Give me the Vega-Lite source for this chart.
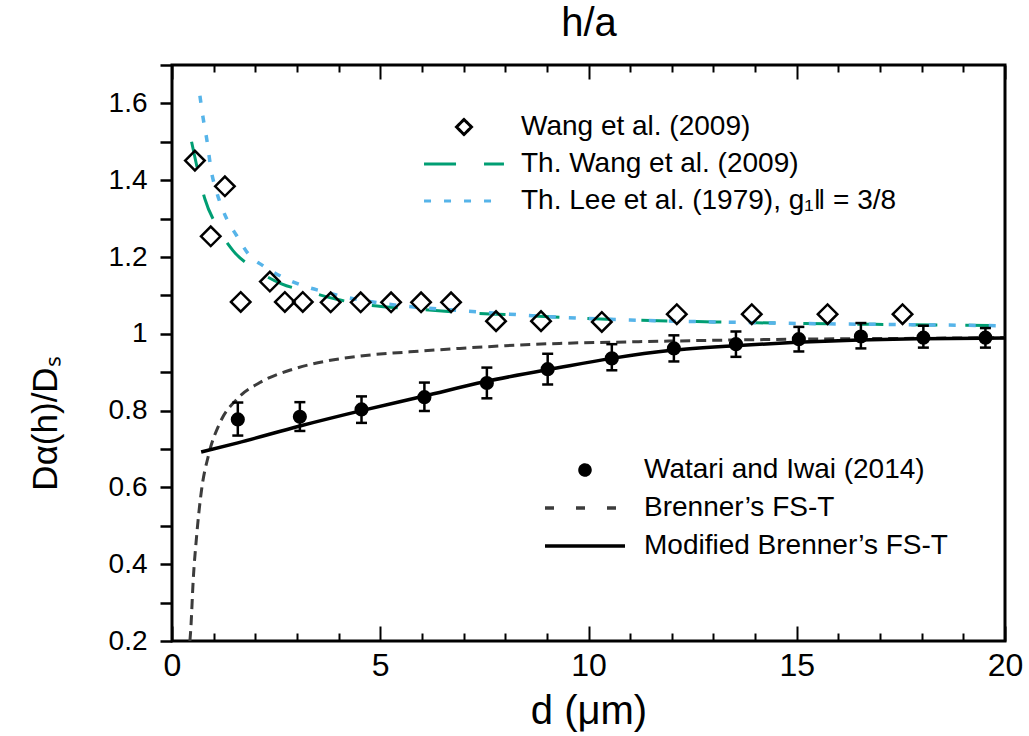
{
  "$schema": "https://vega.github.io/schema/vega-lite/v6.json",
  "width": 833,
  "height": 576,
  "autosize": {"type": "none"},
  "padding": {"left": 172, "top": 65, "right": 24, "bottom": 95},
  "config": {
    "view": {"stroke": "black", "strokeWidth": 3},
    "font": "Liberation Sans",
    "axis": {"domain": false, "grid": false, "tickColor": "black", "tickWidth": 2, "tickOpacity": 1, "labelColor": "black", "titleColor": "black", "titleFontWeight": "normal"}
  },
  "datasets": {
    "wang": [
      {"d": 0.55, "v": 1.451}, {"d": 0.93, "v": 1.254}, {"d": 1.27, "v": 1.384}, {"d": 1.65, "v": 1.083},
      {"d": 2.35, "v": 1.136}, {"d": 2.71, "v": 1.083}, {"d": 3.14, "v": 1.083}, {"d": 3.81, "v": 1.082},
      {"d": 4.53, "v": 1.082}, {"d": 5.26, "v": 1.082}, {"d": 5.98, "v": 1.082}, {"d": 6.7, "v": 1.082},
      {"d": 7.78, "v": 1.033}, {"d": 8.86, "v": 1.033}, {"d": 10.32, "v": 1.031}, {"d": 12.12, "v": 1.051},
      {"d": 13.92, "v": 1.051}, {"d": 15.74, "v": 1.051}, {"d": 17.54, "v": 1.051}
    ],
    "thwang": [
      {"d": 0.47, "v": 1.5}, {"d": 0.61, "v": 1.43}, {"d": 0.79, "v": 1.351}, {"d": 1.07, "v": 1.282},
      {"d": 1.47, "v": 1.216}, {"d": 1.99, "v": 1.169}, {"d": 2.63, "v": 1.13}, {"d": 3.27, "v": 1.11},
      {"d": 3.95, "v": 1.09}, {"d": 4.59, "v": 1.077}, {"d": 5.95, "v": 1.064}, {"d": 6.91, "v": 1.056},
      {"d": 8, "v": 1.05}, {"d": 9.3, "v": 1.043}, {"d": 11, "v": 1.036}, {"d": 13, "v": 1.031},
      {"d": 15, "v": 1.027}, {"d": 17.5, "v": 1.024}, {"d": 20, "v": 1.021}
    ],
    "thlee": [
      {"d": 0.67, "v": 1.62}, {"d": 0.75, "v": 1.56}, {"d": 0.83, "v": 1.51}, {"d": 0.95, "v": 1.42},
      {"d": 1.07, "v": 1.37}, {"d": 1.31, "v": 1.3}, {"d": 1.55, "v": 1.256}, {"d": 1.87, "v": 1.203},
      {"d": 2.19, "v": 1.177}, {"d": 2.67, "v": 1.147}, {"d": 3.15, "v": 1.125}, {"d": 3.71, "v": 1.108},
      {"d": 4.19, "v": 1.095}, {"d": 5, "v": 1.08}, {"d": 6, "v": 1.068}, {"d": 7, "v": 1.06},
      {"d": 8, "v": 1.052}, {"d": 9.3, "v": 1.043}, {"d": 11, "v": 1.036}, {"d": 13, "v": 1.031},
      {"d": 15, "v": 1.027}, {"d": 17.5, "v": 1.024}, {"d": 20, "v": 1.021}
    ],
    "watari": [
      {"d": 1.58, "v": 0.777, "lo": 0.735, "hi": 0.821},
      {"d": 3.07, "v": 0.784, "lo": 0.747, "hi": 0.822},
      {"d": 4.55, "v": 0.803, "lo": 0.768, "hi": 0.837},
      {"d": 6.06, "v": 0.835, "lo": 0.799, "hi": 0.873},
      {"d": 7.56, "v": 0.872, "lo": 0.832, "hi": 0.912},
      {"d": 9.02, "v": 0.908, "lo": 0.868, "hi": 0.948},
      {"d": 10.56, "v": 0.936, "lo": 0.905, "hi": 0.973},
      {"d": 12.05, "v": 0.962, "lo": 0.928, "hi": 0.996},
      {"d": 13.54, "v": 0.973, "lo": 0.94, "hi": 1.006},
      {"d": 15.05, "v": 0.986, "lo": 0.954, "hi": 1.018},
      {"d": 16.54, "v": 0.993, "lo": 0.962, "hi": 1.028},
      {"d": 18.04, "v": 0.99, "lo": 0.964, "hi": 1.021},
      {"d": 19.53, "v": 0.99, "lo": 0.964, "hi": 1.015}
    ],
    "brenner": [
      {"d": 0.43, "v": 0.2}, {"d": 0.45, "v": 0.229}, {"d": 0.51, "v": 0.36}, {"d": 0.59, "v": 0.472},
      {"d": 0.71, "v": 0.594}, {"d": 0.87, "v": 0.681}, {"d": 1.15, "v": 0.768}, {"d": 1.55, "v": 0.829},
      {"d": 2.11, "v": 0.873}, {"d": 2.91, "v": 0.908}, {"d": 3.71, "v": 0.929}, {"d": 4.51, "v": 0.942},
      {"d": 5.71, "v": 0.953}, {"d": 6.91, "v": 0.962}, {"d": 8, "v": 0.969}, {"d": 9.3, "v": 0.975},
      {"d": 11, "v": 0.979}, {"d": 13, "v": 0.983}, {"d": 15, "v": 0.986}, {"d": 17.5, "v": 0.988},
      {"d": 20, "v": 0.99}
    ],
    "modbrenner": [
      {"d": 0.7, "v": 0.692}, {"d": 1.58, "v": 0.716}, {"d": 3.07, "v": 0.76}, {"d": 4.55, "v": 0.8},
      {"d": 6.06, "v": 0.838}, {"d": 7.5, "v": 0.875}, {"d": 9.3, "v": 0.912}, {"d": 10.56, "v": 0.936},
      {"d": 12, "v": 0.957}, {"d": 13.5, "v": 0.969}, {"d": 15, "v": 0.978}, {"d": 16.5, "v": 0.984},
      {"d": 18, "v": 0.987}, {"d": 20, "v": 0.989}
    ]
  },
  "layer": [
    {
      "data": {"name": "thwang"},
      "mark": {"type": "line", "strokeDash": [26, 28], "strokeWidth": 3, "interpolate": "monotone", "clip": true},
      "encoding": {
        "x": {"field": "d", "type": "quantitative", "scale": {"domain": [0, 20], "nice": false, "zero": false},
          "axis": {
            "orient": "bottom",
            "values": [0, 5, 10, 15, 20],
            "ticks": false,
            "labelFont": "Liberation Sans Narrow, Liberation Sans",
            "labelFontSize": 32,
            "labelPadding": 9,
            "labelOverlap": false,
            "labelFlush": false,
            "labelBound": false,
            "title": "d (μm)",
            "titleFont": "Liberation Sans Narrow, Liberation Sans",
            "titleFontSize": 40,
            "titleBaseline": "alphabetic",
            "titleY": 82
          }
        },
        "y": {"field": "v", "type": "quantitative", "scale": {"domain": [0.2, 1.7], "nice": false, "zero": false},
          "axis": {
            "orient": "left",
            "values": [0.2,0.3,0.4,0.5,0.6,0.7,0.8,0.9,1.0,1.1,1.2,1.3,1.4,1.5,1.6,1.7],
            "ticks": true,
            "tickColor": "black",
            "tickWidth": 2.5,
            "tickOpacity": 1,
            "tickSize": 12,
            "zindex": 1,
            "format": ".1~f",
            "labelExpr": "round(datum.value * 10) % 2 === 0 ? datum.label : ''",
            "labelFont": "Liberation Sans",
            "labelFontSize": 28,
            "labelPadding": 13,
            "labelOverlap": false,
            "labelFlush": false,
            "labelBound": false,
            "title": "Dα(h)/Dₛ",
            "titleFont": "Liberation Sans",
            "titleFontSize": 35,
            "titleX": -127,
            "titleY": 358,
            "titleAlign": "center",
            "titleBaseline": "middle",
            "titleAngle": -90
          }
        },
        "color": {"datum": "Th. Wang et al. (2009)", "type": "nominal",
          "scale": {"domain": ["Wang et al. (2009)", "Th. Wang et al. (2009)", "Th. Lee et al. (1979), g₁‖ = 3/8"], "range": ["black", "#009E73", "#56B4E9"]},
          "legend": null}
      }
    },
    {
      "data": {"name": "thlee"},
      "mark": {"type": "line", "strokeDash": [7, 13], "strokeWidth": 3.5, "interpolate": "monotone", "clip": true},
      "encoding": {
        "x": {"field": "d", "type": "quantitative", "scale": {"domain": [0, 20], "nice": false, "zero": false},
          "axis": {"orient": "top", "offset": -576, "values": [0, 5, 10, 15, 20], "ticks": true, "tickSize": 15, "tickColor": "black", "tickWidth": 2, "zindex": 1, "labels": false, "title": null,
            "encode": {"ticks": {"stroke": {"value": "black"}, "strokeWidth": {"value": 2}, "opacity": {"value": 1}}}}
        },
        "y": {"field": "v", "type": "quantitative", "scale": {"domain": [0.2, 1.7], "nice": false, "zero": false}, "axis": null},
        "color": {"datum": "Th. Lee et al. (1979), g₁‖ = 3/8", "type": "nominal",
          "scale": {"domain": ["Wang et al. (2009)", "Th. Wang et al. (2009)", "Th. Lee et al. (1979), g₁‖ = 3/8"], "range": ["black", "#009E73", "#56B4E9"]},
          "legend": null}
      }
    },
    {
      "data": {"name": "wang"},
      "mark": {"type": "point", "shape": "diamond", "filled": false, "size": 380, "strokeWidth": 2.5, "opacity": 1, "clip": true},
      "encoding": {
        "x": {"field": "d", "type": "quantitative", "scale": {"domain": [0, 20], "nice": false, "zero": false},
          "axis": {"orient": "top", "offset": -576, "values": [1,2,3,4,6,7,8,9,11,12,13,14,16,17,18,19], "ticks": true, "tickSize": 8, "tickColor": "black", "tickWidth": 2, "zindex": 1, "labels": false, "title": null,
            "encode": {"ticks": {"stroke": {"value": "black"}, "strokeWidth": {"value": 2}, "opacity": {"value": 1}}}}
        },
        "y": {"field": "v", "type": "quantitative", "scale": {"domain": [0.2, 1.7], "nice": false, "zero": false}, "axis": null},
        "color": {"datum": "Wang et al. (2009)", "type": "nominal",
          "scale": {"domain": ["Wang et al. (2009)", "Th. Wang et al. (2009)", "Th. Lee et al. (1979), g₁‖ = 3/8"], "range": ["black", "#009E73", "#56B4E9"]},
          "legend": {
            "orient": "none",
            "legendX": 278,
            "legendY": 48,
            "title": null,
            "padding": 0,
            "offset": 0,
            "symbolSize": 225,
            "symbolType": {"expr": "datum.value === 'Wang et al. (2009)' ? 'diamond' : 'M-5.33,0L5.33,0'"},
            "symbolDash": {"expr": "datum.value === 'Th. Wang et al. (2009)' ? [32, 28] : (datum.value === 'Th. Lee et al. (1979), g₁‖ = 3/8' ? [7, 13] : [1, 0])"},
            "symbolStrokeWidth": 3,
            "symbolOpacity": 1,
            "labelFont": "Liberation Sans",
            "labelFontSize": 28,
            "labelColor": "black",
            "labelOffset": 43,
            "labelLimit": 600,
            "rowPadding": 9
          }
        }
      }
    },
    {
      "data": {"name": "brenner"},
      "mark": {"type": "line", "strokeDash": [10, 6], "strokeWidth": 3, "interpolate": "monotone", "clip": true},
      "encoding": {
        "x": {"field": "d", "type": "quantitative", "scale": {"domain": [0, 20], "nice": false, "zero": false},
          "axis": {
            "orient": "top",
            "values": [0, 5, 10, 15, 20],
            "ticks": false,
            "labels": false,
            "title": "h/a",
            "titleFont": "Liberation Sans Narrow, Liberation Sans",
            "titleFontSize": 40,
            "titleBaseline": "alphabetic",
            "titleY": -30
          }
        },
        "y": {"field": "v", "type": "quantitative", "scale": {"domain": [0.2, 1.7], "nice": false, "zero": false}, "axis": null},
        "color": {"datum": "Brenner’s FS-T", "type": "nominal",
          "scale": {"domain": ["Watari and Iwai (2014)", "Brenner’s FS-T", "Modified Brenner’s FS-T"], "range": ["black", "#3c3c3c", "black"]},
          "legend": null}
      }
    },
    {
      "data": {"name": "modbrenner"},
      "mark": {"type": "line", "strokeWidth": 3.5, "interpolate": "monotone", "clip": true},
      "encoding": {
        "x": {"field": "d", "type": "quantitative", "scale": {"domain": [0, 20], "nice": false, "zero": false},
          "axis": {"orient": "bottom", "offset": -576, "values": [0, 5, 10, 15, 20], "ticks": true, "tickSize": 14, "tickColor": "black", "tickWidth": 2, "zindex": 1, "labels": false, "title": null,
            "encode": {"ticks": {"stroke": {"value": "black"}, "strokeWidth": {"value": 2}, "opacity": {"value": 1}}}}
        },
        "y": {"field": "v", "type": "quantitative", "scale": {"domain": [0.2, 1.7], "nice": false, "zero": false}, "axis": null},
        "color": {"datum": "Modified Brenner’s FS-T", "type": "nominal",
          "scale": {"domain": ["Watari and Iwai (2014)", "Brenner’s FS-T", "Modified Brenner’s FS-T"], "range": ["black", "#3c3c3c", "black"]},
          "legend": null}
      }
    },
    {
      "data": {"name": "watari"},
      "mark": {"type": "rule", "color": "black", "strokeWidth": 2.5, "clip": true},
      "encoding": {
        "x": {"field": "d", "type": "quantitative", "scale": {"domain": [0, 20], "nice": false, "zero": false},
          "axis": {"orient": "bottom", "offset": -576, "values": [1,2,3,4,6,7,8,9,11,12,13,14,16,17,18,19], "ticks": true, "tickSize": 7, "tickColor": "black", "tickWidth": 2, "zindex": 1, "labels": false, "title": null,
            "encode": {"ticks": {"stroke": {"value": "black"}, "strokeWidth": {"value": 2}, "opacity": {"value": 1}}}}
        },
        "y": {"field": "lo", "type": "quantitative", "scale": {"domain": [0.2, 1.7], "nice": false, "zero": false}, "axis": null},
        "y2": {"field": "hi"}
      }
    },
    {
      "data": {"name": "watari"},
      "mark": {"type": "point", "shape": "M-1,0L1,0", "filled": false, "size": 121, "strokeWidth": 2.5, "color": "black", "opacity": 1, "clip": true},
      "encoding": {
        "x": {"field": "d", "type": "quantitative", "scale": {"domain": [0, 20], "nice": false, "zero": false}, "axis": null},
        "y": {"field": "lo", "type": "quantitative", "scale": {"domain": [0.2, 1.7], "nice": false, "zero": false}, "axis": null}
      }
    },
    {
      "data": {"name": "watari"},
      "mark": {"type": "point", "shape": "M-1,0L1,0", "filled": false, "size": 121, "strokeWidth": 2.5, "color": "black", "opacity": 1, "clip": true},
      "encoding": {
        "x": {"field": "d", "type": "quantitative", "scale": {"domain": [0, 20], "nice": false, "zero": false}, "axis": null},
        "y": {"field": "hi", "type": "quantitative", "scale": {"domain": [0.2, 1.7], "nice": false, "zero": false}, "axis": null}
      }
    },
    {
      "data": {"name": "watari"},
      "mark": {"type": "point", "shape": "circle", "filled": true, "size": 200, "opacity": 1, "clip": true},
      "encoding": {
        "x": {"field": "d", "type": "quantitative", "scale": {"domain": [0, 20], "nice": false, "zero": false}, "axis": null},
        "y": {"field": "v", "type": "quantitative", "scale": {"domain": [0.2, 1.7], "nice": false, "zero": false}, "axis": null},
        "color": {"datum": "Watari and Iwai (2014)", "type": "nominal",
          "scale": {"domain": ["Watari and Iwai (2014)", "Brenner’s FS-T", "Modified Brenner’s FS-T"], "range": ["black", "#3c3c3c", "black"]},
          "legend": {
            "orient": "none",
            "legendX": 399,
            "legendY": 391,
            "title": null,
            "padding": 0,
            "offset": 0,
            "symbolSize": 100,
            "symbolType": {"expr": "datum.value === 'Watari and Iwai (2014)' ? 'circle' : 'M-8,0L8,0'"},
            "symbolDash": {"expr": "datum.value === 'Brenner’s FS-T' ? [9, 22] : [1, 0]"},
            "symbolStrokeColor": {"expr": "datum.value === 'Brenner’s FS-T' ? '#3c3c3c' : 'black'"},
            "symbolStrokeWidth": 3.5,
            "symbolOpacity": 1,
            "labelFont": "Liberation Sans",
            "labelFontSize": 28,
            "labelColor": "black",
            "labelOffset": 45,
            "labelLimit": 600,
            "rowPadding": 10
          }
        }
      }
    }
  ],
  "resolve": {"scale": {"color": "independent"}, "axis": {"x": "independent", "y": "independent"}}
}
